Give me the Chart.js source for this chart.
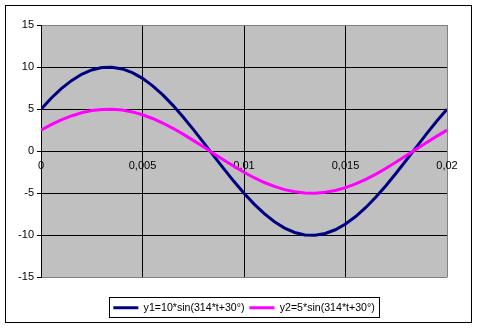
<!DOCTYPE html>
<html>
<head>
<meta charset="utf-8">
<script src="https://cdn.jsdelivr.net/npm/chart.js@4/dist/chart.umd.min.js"></script>
<style>
  html, body { margin: 0; padding: 0; background: #fff; }
  canvas { display: block; }
</style>
</head>
<body>
<canvas id="sine-chart" width="477" height="328"></canvas>
<script>
// time, s
var times = [0, 0.0005, 0.001, 0.0015, 0.002, 0.0025, 0.003, 0.0035, 0.004, 0.0045, 0.005,
             0.0055, 0.006, 0.0065, 0.007, 0.0075, 0.008, 0.0085, 0.009, 0.0095, 0.01,
             0.0105, 0.011, 0.0115, 0.012, 0.0125, 0.013, 0.0135, 0.014, 0.0145, 0.015,
             0.0155, 0.016, 0.0165, 0.017, 0.0175, 0.018, 0.0185, 0.019, 0.0195, 0.02];
var y1Values = [5.0, 6.29, 7.43, 8.39, 9.14, 9.66, 9.95, 9.99, 9.78, 9.34, 8.66,
                7.77, 6.69, 5.45, 4.07, 2.59, 1.05, -0.52, -2.08, -3.58, -5.0,
                -6.29, -7.43, -8.39, -9.14, -9.66, -9.95, -9.99, -9.78, -9.34, -8.66,
                -7.77, -6.69, -5.45, -4.07, -2.59, -1.05, 0.52, 2.08, 3.58, 5.0];
var y2Values = [2.5, 3.15, 3.72, 4.19, 4.57, 4.83, 4.97, 4.99, 4.89, 4.67, 4.33,
                3.89, 3.35, 2.72, 2.03, 1.29, 0.52, -0.26, -1.04, -1.79, -2.5,
                -3.15, -3.72, -4.19, -4.57, -4.83, -4.97, -4.99, -4.89, -4.67, -4.33,
                -3.89, -3.35, -2.72, -2.03, -1.29, -0.52, 0.26, 1.04, 1.79, 2.5];
var seriesLabels = ["y1=10*sin(314*t+30\u00b0)", "y2=5*sin(314*t+30\u00b0)"];
var yTicks = [-15, -10, -5, 0, 5, 10, 15];
var xTicks = [0, 0.005, 0.01, 0.015, 0.02];

function points(ys) {
    return times.map(function (t, i) { return {x: t, y: ys[i]}; });
}

var FONT = "'Liberation Sans', Arial, sans-serif";

var chartFrame = {
    id: 'chartFrame',
    beforeDraw: function (chart) {
        var ctx = chart.ctx, a = chart.chartArea;
        ctx.save();
        ctx.fillStyle = '#ffffff';
        ctx.fillRect(0, 0, chart.width, chart.height);
        ctx.fillStyle = '#c0c0c0';
        ctx.fillRect(a.left, a.top, a.right - a.left, a.bottom - a.top);
        ctx.restore();
    },
    afterDraw: function (chart) {
        var ctx = chart.ctx;
        ctx.save();
        ctx.strokeStyle = '#000000';
        ctx.lineWidth = 1;
        ctx.strokeRect(5.5, 5.5, 466, 317);
        // legend box
        var boxes = chart.legend.legendHitBoxes;
        if (boxes && boxes.length) {
            var l = Math.min.apply(null, boxes.map(function (b) { return b.left; }));
            var r = Math.max.apply(null, boxes.map(function (b) { return b.left + b.width; }));
            ctx.strokeRect(Math.round(l) - 3.5, 297.5, Math.round(r - l) + 9, 20);
        }
        ctx.restore();
    }
};

new Chart(document.getElementById("sine-chart"), {
    type: 'line',
    data: {
        datasets: [
            {
                label: seriesLabels[0],
                data: points(y1Values),
                borderColor: '#000080',
                backgroundColor: '#000080',
                borderWidth: 3,
                pointRadius: 0,
                tension: 0,
                order: 1
            },
            {
                label: seriesLabels[1],
                data: points(y2Values),
                borderColor: '#ff00ff',
                backgroundColor: '#ff00ff',
                borderWidth: 3,
                pointRadius: 0,
                tension: 0,
                order: 0
            }
        ]
    },
    options: {
        responsive: false,
        animation: false,
        layout: {padding: {left: 0, top: 25, right: 30, bottom: 5}},
        plugins: {
            title: {display: false},
            tooltip: {enabled: false},
            legend: {
                position: 'bottom',
                fullSize: false,
                labels: {
                    usePointStyle: true,
                    pointStyle: 'line',
                    pointStyleWidth: 25,
                    padding: 5,
                    color: '#000000',
                    font: {family: FONT, size: 10.6},
                    sort: function (a, b) { return a.datasetIndex - b.datasetIndex; }
                }
            }
        },
        scales: {
            x: {
                type: 'linear',
                position: {y: 0},
                min: 0,
                max: 0.02,
                afterBuildTicks: function (scale) {
                    scale.ticks = xTicks.map(function (v) { return {value: v}; });
                },
                ticks: {
                    padding: 8,
                    maxRotation: 0,
                    color: '#000000',
                    font: {family: FONT, size: 11},
                    callback: function (v) { return String(+v.toFixed(3)).replace('.', ','); }
                },
                grid: {
                    drawTicks: false,
                    color: function (c) {
                        return c.tick && Math.abs(c.tick.value - 0.02) < 1e-9 ? '#808080' : '#000000';
                    }
                },
                border: {display: false}
            },
            spacer: {
                type: 'linear',
                position: 'bottom',
                axis: 'x',
                ticks: {display: false},
                grid: {display: false},
                border: {display: false},
                afterFit: function (scale) { scale.height = 20; }
            },
            y: {
                min: -15,
                max: 15,
                afterBuildTicks: function (scale) {
                    scale.ticks = yTicks.map(function (v) { return {value: v}; });
                },
                afterFit: function (scale) { scale.width = 41; },
                ticks: {
                    padding: 3,
                    color: '#000000',
                    font: {family: FONT, size: 11},
                    callback: function (v) { return String(v); }
                },
                grid: {
                    tickLength: 4,
                    tickColor: '#000000',
                    color: function (c) {
                        return c.tick && Math.abs(c.tick.value) === 15 ? '#808080' : '#000000';
                    }
                },
                border: {display: true, color: '#000000', width: 1}
            }
        }
    },
    plugins: [chartFrame]
});
</script>
</body>
</html>
